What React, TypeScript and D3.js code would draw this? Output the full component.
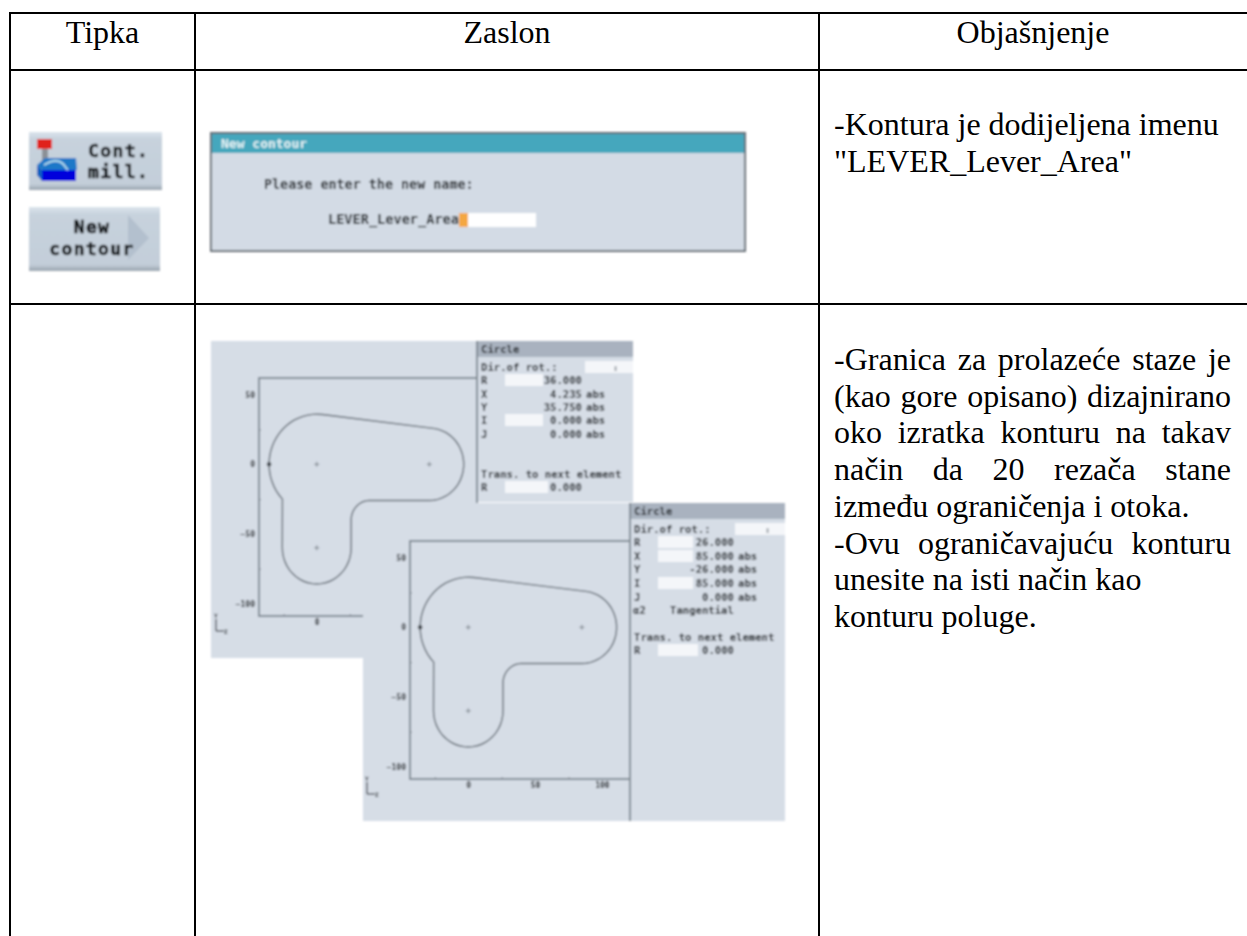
import React, { useEffect, useRef } from 'react';
import * as d3 from 'd3';

// table text
const headers = ['Tipka', 'Zaslon', 'Objašnjenje'];
const firstRowLines = ['-Kontura je dodijeljena imenu', '"LEVER_Lever_Area"'];
const secondRowLines = [
  '-Granica za prolazeće staze je',
  '(kao gore opisano) dizajnirano',
  'oko izratka konturu na takav',
  'način da 20 rezača stane',
  'između ograničenja i otoka.',
  '-Ovu ograničavajuću konturu',
  'unesite na isti način kao',
  'konturu poluge.',
];
const justifiedLines = [true, true, true, true, false, true, false, false];

// lever contour, in drawing units: cx, cy, r, start angle, end angle
const contourArcs = [
  [0, 0, 36, 224, 83.25],
  [85, 0, 26, 83.25, -90],
  [40, -40, 14, 90, 180],
  [0, -60, 26, 0, -180],
];
const centerMarks = [[0, 0], [85, 0], [0, -60]];
const startMark = [-36, 0];
const xDomain = [-43.6, 121];
const yDomain = [-109, 62];
const yTicks = [50, 0, -50, -100];
const yMinorTicks = [25, -25, -75];
const xMinorTicks = [-25, 25, 75];

const firstFields = [
  ['R', '36.000', ''],
  ['X', '4.235', 'abs'],
  ['Y', '35.750', 'abs'],
  ['I', '0.000', 'abs'],
  ['J', '0.000', 'abs'],
];
const secondFields = [
  ['R', '26.000', ''],
  ['X', '85.000', 'abs'],
  ['Y', '-26.000', 'abs'],
  ['I', '85.000', 'abs'],
  ['J', '0.000', 'abs'],
];

const SERIF = '"Liberation Serif", serif';
const MONO = '"DejaVu Sans Mono", monospace';
const PANEL = '#d6dde6';
const GREY = '#808a94';
const INK = '#1f2327';

const App = () => {
  const svgRef = useRef<SVGSVGElement>(null);

  useEffect(() => {
    const svg = d3.select(svgRef.current);
    svg.selectAll('*').remove();

    const defs = svg.append('defs');
    defs.append('filter').attr('id', 'soft')
      .attr('x', '-5%').attr('y', '-5%').attr('width', '110%').attr('height', '110%')
      .append('feGaussianBlur').attr('stdDeviation', 0.8);
    const grad = defs.append('linearGradient').attr('id', 'key')
      .attr('x1', 0).attr('y1', 0).attr('x2', 0).attr('y2', 1);
    grad.append('stop').attr('offset', 0).attr('stop-color', '#dbe4ec');
    grad.append('stop').attr('offset', 0.12).attr('stop-color', '#c7d2dd');
    grad.append('stop').attr('offset', 0.9).attr('stop-color', '#c3ced9');
    grad.append('stop').attr('offset', 1).attr('stop-color', '#98a3ae');

    // table rules
    const rules = svg.append('g').attr('stroke', '#000').attr('stroke-width', 2);
    [13, 70, 304].forEach(y =>
      rules.append('line').attr('x1', 9).attr('x2', 1247).attr('y1', y).attr('y2', y));
    [10, 195, 819].forEach(x =>
      rules.append('line').attr('x1', x).attr('x2', x).attr('y1', 12).attr('y2', 936));

    const serifText = (x: number, y: number, s: string, anchor = 'start') =>
      svg.append('text').attr('x', x).attr('y', y).text(s)
        .attr('text-anchor', anchor)
        .attr('font-family', SERIF).attr('font-size', 32).attr('fill', '#000');

    [102.5, 507, 1033].forEach((x, i) => serifText(x, 43, headers[i], 'middle'));
    firstRowLines.forEach((s, i) => serifText(834, 135 + i * 37, s));
    secondRowLines.forEach((s, i) => {
      const t = serifText(834, 370 + i * 36.7, s);
      if (justifiedLines[i]) {
        const gaps = s.split(' ').length - 1;
        const extra = (1231 - 834 - (t.node() as SVGTextElement).getComputedTextLength()) / gaps;
        t.attr('word-spacing', extra);
      }
    });

    const soft = svg.append('g').attr('filter', 'url(#soft)');

    const mono = (g: any, x: number, y: number, s: string, size = 11, anchor = 'start', fill = INK) =>
      g.append('text').attr('x', x).attr('y', y).text(s)
        .attr('text-anchor', anchor).attr('font-family', MONO)
        .attr('font-weight', 'bold').attr('font-size', size).attr('fill', fill);

    // soft keys
    const key = (y: number, h: number, w: number) =>
      soft.append('rect').attr('x', 29).attr('y', y).attr('width', w).attr('height', h).attr('fill', 'url(#key)');
    key(132, 58, 133);
    key(207, 64, 131);
    soft.append('rect').attr('x', 37).attr('y', 139).attr('width', 15).attr('height', 10).attr('fill', '#e0201c');
    soft.append('rect').attr('x', 42).attr('y', 149).attr('width', 6).attr('height', 15).attr('fill', '#8b9096');
    soft.append('path').attr('d', 'M37 165 L45 158 L76 158 L77 170 L42 170 Z').attr('fill', '#1b78c8');
    soft.append('path').attr('d', 'M37 165 L42 170 L42 181 L37 175 Z').attr('fill', '#0d5fc0');
    soft.append('rect').attr('x', 42).attr('y', 170).attr('width', 34).attr('height', 11).attr('fill', '#0000dc');
    soft.append('path').attr('d', 'M44 165 C52 160 58 160 62 163 C66 166 66 169 68 170')
      .attr('fill', 'none').attr('stroke', '#bfe6f2').attr('stroke-width', 1.6);
    const keyLabel = (x: number, y: number, s: string, anchor = 'start') =>
      mono(soft, x, y, s, 18, anchor, '#0f1215')
        .attr('letter-spacing', 1.4).attr('stroke', '#0f1215').attr('stroke-width', 0.6);
    keyLabel(88, 157, 'Cont.');
    keyLabel(88, 178, 'mill.');
    soft.append('path').attr('d', 'M128 215 L149 238 L128 260 Z').attr('fill', '#b3c0ce');
    keyLabel(92, 233, 'New', 'middle');
    keyLabel(92, 255, 'contour', 'middle');

    // name dialog
    soft.append('rect').attr('x', 211).attr('y', 133).attr('width', 534).attr('height', 118)
      .attr('fill', '#d3dbe5').attr('stroke', '#666e76').attr('stroke-width', 2);
    soft.append('rect').attr('x', 212).attr('y', 134).attr('width', 532).attr('height', 19).attr('fill', '#45a7bd');
    mono(soft, 221, 148, 'New contour', 13, 'start', '#e8f4f6');
    mono(soft, 264, 189, 'Please enter the new name:', 13.4);
    soft.append('rect').attr('x', 459).attr('y', 213).attr('width', 77).attr('height', 14).attr('fill', '#fff');
    soft.append('rect').attr('x', 459).attr('y', 213).attr('width', 9).attr('height', 14).attr('fill', '#f4a742');
    mono(soft, 328, 224, 'LEVER_Lever_Area', 13.6);

    const drawPlot = (left: number, right: number, top: number, bottom: number, xTicks: number[]) => {
      const x = d3.scaleLinear().domain(xDomain).range([left, right]);
      const y = d3.scaleLinear().domain(yDomain).range([bottom, top]);

      soft.append('rect').attr('x', left).attr('y', top).attr('width', right - left).attr('height', bottom - top)
        .attr('fill', 'none').attr('stroke', GREY).attr('stroke-width', 2);

      const yAxis = soft.append('g').attr('transform', `translate(${left},0)`)
        .call(d3.axisLeft(y).tickValues(yTicks).tickSize(0).tickPadding(4));
      const xAxis = soft.append('g').attr('transform', `translate(0,${bottom})`)
        .call(d3.axisBottom(x).tickValues(xTicks).tickSize(0).tickPadding(3));
      const yMinor = soft.append('g').attr('transform', `translate(${left},0)`)
        .call(d3.axisRight(y).tickValues(yMinorTicks).tickSize(2).tickFormat(() => ''));
      const xMinor = soft.append('g').attr('transform', `translate(0,${bottom})`)
        .call(d3.axisTop(x).tickValues(xMinorTicks).tickSize(2).tickFormat(() => ''));
      [yAxis, xAxis, yMinor, xMinor].forEach(a => {
        a.select('.domain').remove();
        a.selectAll('line').attr('stroke', GREY);
        a.selectAll('text').attr('font-family', MONO).attr('font-weight', 'bold')
          .attr('font-size', 8).attr('fill', INK);
      });

      const arcPoints = contourArcs.flatMap(([cx, cy, r, a0, a1]) =>
        d3.range(0, 25).map(i => {
          const a = ((a0 + (a1 - a0) * i / 24) * Math.PI) / 180;
          return [cx + r * Math.cos(a), cy + r * Math.sin(a)];
        }));
      const line = d3.line().x(d => x(d[0])).y(d => y(d[1])).curve(d3.curveLinearClosed);
      soft.append('path').attr('d', line(arcPoints as [number, number][]))
        .attr('fill', 'none').attr('stroke', '#5f6871').attr('stroke-width', 1.4);

      soft.selectAll(null).data(centerMarks).enter().append('g')
        .attr('transform', d => `translate(${x(d[0])},${y(d[1])})`)
        .call(g => g.append('path').attr('d', 'M-2.5 0H2.5M0 -2.5V2.5').attr('stroke', '#7a828a').attr('stroke-width', 1));
      soft.append('circle').attr('cx', x(startMark[0])).attr('cy', y(startMark[1])).attr('r', 2.2).attr('fill', '#3a4047');

      // coordinate icon
      const ix = left - 43;
      const iy = bottom + 3;
      soft.append('path').attr('d', `M${ix} ${iy}V${iy + 12}H${ix + 8}`).attr('fill', 'none').attr('stroke', INK).attr('stroke-width', 1);
      mono(soft, ix + 8, iy + 15, 'Z', 6);
      mono(soft, ix - 2, iy - 1, 'Y', 6);
    };

    const drawInfo = (left: number, right: number, top: number, bottom: number, fields: string[][], rowY: number[], fieldL: number, fieldR: number, valR: number, transY: number) => {
      soft.append('rect').attr('x', left).attr('y', top).attr('width', right - left).attr('height', 16).attr('fill', '#a9b2bf');
      soft.append('line').attr('x1', left).attr('x2', left).attr('y1', top).attr('y2', bottom).attr('stroke', GREY).attr('stroke-width', 2);
      mono(soft, left + 4, top + 12, 'Circle', 10.6);
      mono(soft, left + 4, top + 30, 'Dir.of rot.:', 10.6);
      soft.append('rect').attr('x', fieldR + 42).attr('y', top + 20).attr('width', right - fieldR - 42).attr('height', 12).attr('fill', '#f4f6f9');
      mono(soft, right - 20, top + 30, '↕', 9, 'start', '#8b939b');
      fields.forEach(([name, val, unit], i) => {
        const yy = rowY[i];
        if (name === 'R' || name === 'I' || (fields === secondFields && name === 'X')) {
          soft.append('rect').attr('x', fieldL).attr('y', yy - 10).attr('width', fieldR - fieldL).attr('height', 12).attr('fill', '#f4f6f9');
        }
        mono(soft, left + 4, yy, name, 10.6);
        mono(soft, valR, yy, val, 10.6, 'end');
        if (unit) mono(soft, valR + 4, yy, unit, 10.6);
      });
      mono(soft, left + 4, transY, 'Trans. to next element', 10.6);
      soft.append('rect').attr('x', fieldL).attr('y', transY + 3).attr('width', fieldR - fieldL + 5).attr('height', 12).attr('fill', '#f4f6f9');
      mono(soft, left + 4, transY + 13, 'R', 10.6);
      mono(soft, valR, transY + 13, '0.000', 10.6, 'end');
    };

    // first contour screen
    soft.append('rect').attr('x', 211).attr('y', 341).attr('width', 266).attr('height', 317).attr('fill', PANEL);
    soft.append('rect').attr('x', 477).attr('y', 341).attr('width', 156).attr('height', 161).attr('fill', PANEL);
    drawPlot(259, 477, 378, 616, [0]);
    drawInfo(477, 633, 341, 502, firstFields, [384, 398, 411, 424, 438], 505, 543, 582, 478);

    // second contour screen lies over the first
    soft.append('rect').attr('x', 363).attr('y', 503).attr('width', 422).attr('height', 318).attr('fill', PANEL);
    drawPlot(410, 630, 541, 779, [0, 50, 100]);
    drawInfo(630, 785, 503, 821, secondFields, [546, 560, 573, 587, 601], 658, 693, 734, 641);
    mono(soft, 633, 614, 'α2', 10.6);
    mono(soft, 670, 614, 'Tangential', 10.6);
  }, []);

  return (
    <svg ref={svgRef} width={1247} height={936}
      style={{ position: 'absolute', left: 0, top: 0, display: 'block', background: '#fff' }} />
  );
};

export default App;
